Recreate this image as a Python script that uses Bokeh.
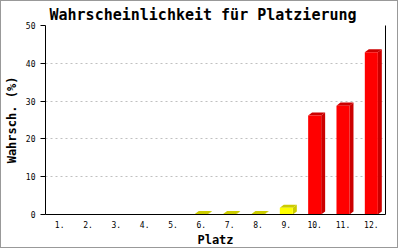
from bokeh.plotting import figure
from bokeh.models import LinearAxis, FixedTicker, Range1d
from bokeh.embed import file_html
from bokeh.resources import INLINE

places = ["1.", "2.", "3.", "4.", "5.", "6.", "7.", "8.", "9.", "10.", "11.", "12."]
probs = [0, 0, 0, 0, 0, 0.15, 0.15, 0.15, 1.8, 26.2, 28.8, 42.9]
y_ticks = [0, 10, 20, 30, 40, 50]

MONO = "DejaVu Sans Mono"

p = figure(width=398, height=248, output_backend="svg", toolbar_location=None,
           x_range=Range1d(0.5, len(places) + 0.5), y_range=Range1d(0, 50),
           min_border_left=42, min_border_right=14, min_border_top=24, min_border_bottom=35)
p.styles = {"border": "1px solid #999999"}
p.outline_line_color = None
p.background_fill_color = "white"
p.border_fill_color = "white"

p.title.text = "Wahrscheinlichkeit für Platzierung"
p.title.text_font = MONO
p.title.text_font_size = "15px"
p.title.text_font_style = "bold"
p.title.text_color = "black"
p.title.align = "left"
p.title.offset = 4
p.title.standoff = 4

# grid
p.xgrid.visible = False
p.ygrid.ticker = FixedTicker(ticks=y_ticks[1:])
p.ygrid.grid_line_color = "#c0c0c0"
p.ygrid.grid_line_dash = "2 3"

# y axis
ya = p.yaxis[0]
ya.ticker = FixedTicker(ticks=y_ticks)
ya.major_tick_out = 5
ya.major_tick_in = 0
ya.major_tick_line_color = "black"
ya.minor_tick_line_color = None
ya.axis_line_color = "black"
ya.major_label_text_font = MONO
ya.major_label_text_font_size = "8px"
ya.major_label_text_color = "black"
ya.major_label_standoff = 5
ya.axis_label = "Wahrsch. (%)"
ya.axis_label_text_font = MONO
ya.axis_label_text_font_size = "12px"
ya.axis_label_text_font_style = "bold"
ya.axis_label_text_color = "black"
ya.axis_label_standoff = 4

# x axis
xa = p.xaxis[0]
xs_idx = list(range(1, len(places) + 1))
xa.ticker = FixedTicker(ticks=xs_idx)
xa.major_label_overrides = {i: lab for i, lab in zip(xs_idx, places)}
xa.major_tick_line_color = None
xa.major_tick_out = 0
xa.major_tick_in = 0
xa.minor_tick_line_color = None
xa.axis_line_color = "black"
xa.major_label_text_font = MONO
xa.major_label_text_font_size = "8px"
xa.major_label_text_color = "black"
xa.major_label_standoff = 6
xa.axis_label = "Platz"
xa.axis_label_text_font = MONO
xa.axis_label_text_font_size = "12px"
xa.axis_label_text_font_style = "bold"
xa.axis_label_text_color = "black"
xa.axis_label_standoff = 2

# right axis line only
ra = LinearAxis(ticker=FixedTicker(ticks=[]), major_tick_line_color=None,
                minor_tick_line_color=None, major_label_text_font_size="0px",
                axis_line_color="black")
p.add_layout(ra, "right")

# 3D bars
w = 0.46
dx = 0.14
dy = 0.8
front_l, front_r, front_t, front_c = [], [], [], []
side_xs, side_ys, top_xs, top_ys, dark_c = [], [], [], [], []
for i, v in zip(xs_idx, probs):
    if v <= 0:
        continue
    red = v >= 10
    fc = "#FF0000" if red else "#FFFF00"
    dc = "#CC0000" if red else "#CCCC00"
    xl, xr = i - w / 2, i + w / 2
    front_l.append(xl); front_r.append(xr); front_t.append(v); front_c.append(fc)
    side_xs.append([xr, xr + dx, xr + dx, xr])
    side_ys.append([0, dy, v + dy, v])
    top_xs.append([xl, xl + dx, xr + dx, xr])
    top_ys.append([v, v + dy, v + dy, v])
    dark_c.append(dc)

p.patches(xs=side_xs, ys=side_ys, fill_color=dark_c, line_color=None)
p.patches(xs=top_xs, ys=top_ys, fill_color=dark_c, line_color=None)
p.quad(left=front_l, right=front_r, bottom=0, top=front_t, fill_color=front_c, line_color=None)

open("out.html", "w").write(file_html(p, INLINE))
